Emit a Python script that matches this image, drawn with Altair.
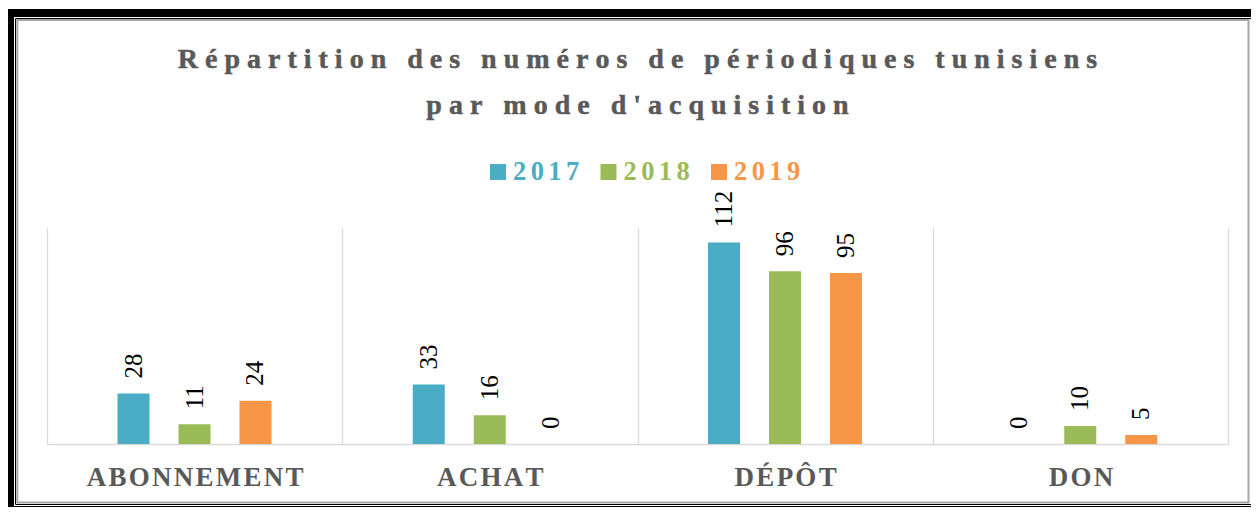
import altair as alt
import pandas as pd

categories = ["ABONNEMENT", "ACHAT", "DÉPÔT", "DON"]
years = ["2017", "2018", "2019"]
values_2017 = [28, 33, 112, 0]
values_2018 = [11, 16, 96, 10]
values_2019 = [24, 0, 95, 5]
colors = ["#4BACC6", "#9BBB59", "#F79646"]
title_lines = ["Répartition des numéros de périodiques tunisiens", "par mode d'acquisition"]

SP_TITLE = "\u2005"
SP_CAT = "\u200a"
SP_LEG = "\u2006"


def spaced(s, sp):
    return sp.join(s)


rows = []
for yr, vals in zip(years, [values_2017, values_2018, values_2019]):
    for c, v in zip(categories, vals):
        rows.append({"mode": spaced(c, SP_CAT), "year": yr, "value": v})
df = pd.DataFrame(rows)
cat_order = [spaced(c, SP_CAT) for c in categories]

legend_df = pd.DataFrame({"year": years, "label": [spaced(y, SP_LEG) for y in years]})
title_df = pd.DataFrame({"text": ["\n".join(spaced(l, SP_TITLE) for l in title_lines)]})
one = pd.DataFrame({"a": [0]})

W, H = 1181, 216
SERIF = "Liberation Serif"

color_scale = alt.Scale(domain=years, range=colors)
x_axis = alt.Axis(
    title=None, grid=True, gridColor="#d9d9d9", gridWidth=1.3, tickBand="extent",
    ticks=False, tickSize=0, domainColor="#d9d9d9", domainWidth=1.5,
    labelFont=SERIF, labelFontSize=27, labelFontWeight="bold", labelColor="#595959",
    labelPadding=20, labelAngle=0, labelLimit=500,
)
x_enc = alt.X("mode:N", sort=cat_order, scale=alt.Scale(paddingInner=0, paddingOuter=0), axis=x_axis)
xoff = alt.XOffset("year:N", sort=years,
                   scale=alt.Scale(range=[70.5, 224.5], paddingInner=0.475, paddingOuter=0))
y_enc = alt.Y("value:Q", scale=alt.Scale(domain=[0, 120]), axis=None)
col = alt.Color("year:N", scale=color_scale, legend=None)

bars = alt.Chart(df).mark_bar().encode(x=x_enc, xOffset=xoff, y=y_enc, color=col)
labels = alt.Chart(df).mark_text(
    angle=270, align="left", baseline="middle", dx=15, font=SERIF, fontSize=25, color="black"
).encode(x=x_enc, xOffset=xoff, y=y_enc, text="value:Q")

leg_x = alt.X("year:N", sort=years, scale=alt.Scale(type="point", range=[451, 672], padding=0), axis=None)
leg_sq = alt.Chart(legend_df).mark_square(size=256, opacity=1).encode(
    x=leg_x, y=alt.value(-56), color=col)
leg_txt = alt.Chart(legend_df).mark_text(
    align="left", baseline="middle", dx=15, font=SERIF, fontSize=26.5, fontWeight="bold"
).encode(x=leg_x, y=alt.value(-56), text="label:N", color=col)

title = alt.Chart(title_df).mark_text(
    align="center", baseline="alphabetic", lineBreak="\n", lineHeight=46,
    font=SERIF, fontSize=28, fontWeight="bold", color="#595959",
    stroke="#595959", strokeWidth=0.5
).encode(x=alt.value(W / 2), y=alt.value(-160), text="text:N")


def frame(x1, x2, y1, y2, color, w):
    return alt.Chart(one).mark_rect(fill="transparent", stroke=color, strokeWidth=w).encode(
        x=alt.value(x1), x2=alt.value(x2), y=alt.value(y1), y2=alt.value(y2))


f_outer = frame(-37, 1209, -215, 282, "black", 8)
f_thin = frame(-31.5, 1208, -209.5, 276.5, "black", 1)
f_gray = frame(-29.7, 1201.5, -208, 274.5, "#a6a6a6", 2)

main = alt.layer(bars, labels)
legend = alt.layer(leg_sq, leg_txt)

chart = alt.layer(f_outer, f_thin, f_gray, title, main, legend).resolve_scale(
    x="independent"
).properties(
    width=W, height=H,
    padding={"left": 39, "top": 220, "right": 23, "bottom": 63},
    autosize=alt.AutoSizeParams(type="none"),
    background="white",
).configure_view(strokeWidth=0)

chart.save("out.html", embed_options={"renderer": "svg", "actions": False})
